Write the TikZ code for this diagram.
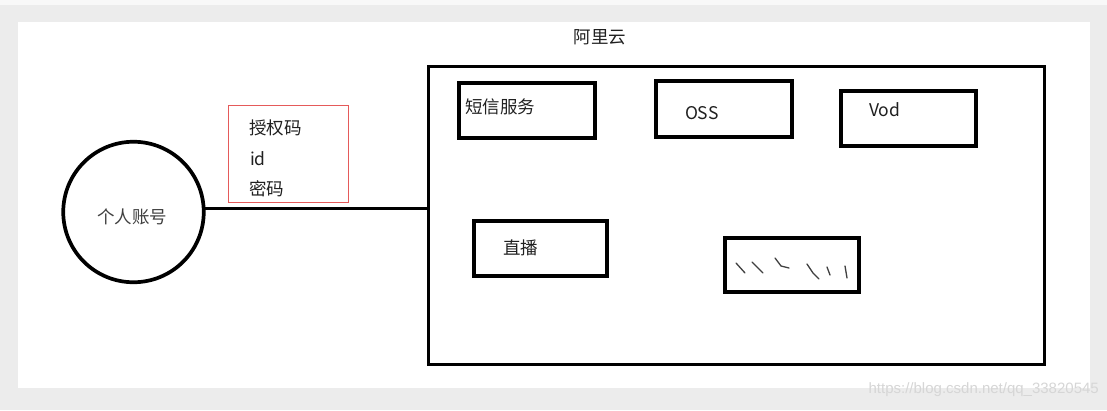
\documentclass[tikz,border=0pt]{standalone}
\usepackage{fontspec}
\newfontfamily\cjk{Noto Sans CJK SC}
\newfontfamily\wmfont{Liberation Sans}
\definecolor{bggrey}{HTML}{ECECEC}
\definecolor{topstrip}{HTML}{F8F8F8}
\definecolor{redline}{HTML}{E55A5A}
\definecolor{txt}{HTML}{202020}
\definecolor{wm}{HTML}{D6D6D6}
\tikzset{
  box/.style={draw=black, line width=3.3pt, rectangle, inner sep=0pt, outer sep=0pt},
  lbl/.style={inner sep=0pt, outer sep=0pt, text=txt, font=\cjk\fontsize{17.5}{20}\selectfont},
  squig/.style={draw=black!75, line width=1.3pt, line cap=round, line join=round},
}
\begin{document}
\begin{tikzpicture}[x=1pt, y=-1pt]
\useasboundingbox (0,0) rectangle (1107,410);
% background frame
\fill[bggrey] (0,0) rectangle (1107,410);
\fill[topstrip] (0,0) rectangle (1107,5);
\fill[white] (18,22) rectangle (1090,388);

% title
\node[lbl] (title) at (600,37) {阿里云};

% big cloud rectangle
\node[box, line width=3pt, minimum width=616pt, minimum height=298pt] (cloud) at (736.5,215.5) {};

% personal account circle
\node[draw=black, line width=3.7pt, circle, minimum size=140.5pt, inner sep=0pt, outer sep=0pt] (acct) at (133.5,212) {};
\node[lbl, text=black!75] (acctlbl) at (132,217) {个人账号};

% credentials box
\node[draw=redline, line width=1.5pt, rectangle, minimum width=120pt, minimum height=97pt, inner sep=0pt, outer sep=0pt] (cred) at (288.5,154) {};
\node[lbl, anchor=west] (c1) at (249,128) {授权码};
\node[lbl, anchor=west] (c2) at (250,159) {id};
\node[lbl, anchor=west] (c3) at (249,189) {密码};

% connector
\draw[line width=3pt] (acct.3) -- (acct.3 -| cloud.west);

% service boxes
\node[box, minimum width=136pt, minimum height=55pt] (sms) at (527,110.5) {};
\node[lbl, anchor=west] (smslbl) at (465,107) {短信服务};

\node[box, minimum width=136pt, minimum height=56pt] (oss) at (724,109) {};
\node[lbl, anchor=west] (osslbl) at (685,113) {OSS};

\node[box, minimum width=135pt, minimum height=55pt] (vod) at (908.5,118.5) {};
\node[lbl, anchor=west] (vodlbl) at (869,110) {Vod};

\node[box, minimum width=133pt, minimum height=55pt] (live) at (540.5,248.5) {};
\node[lbl, anchor=west] (livelbl) at (503,248) {直播};

\node[box, minimum width=134pt, minimum height=54pt] (misc) at (792,265) {};
% scribbles
\draw[squig] (736,263) -- (745,273);
\draw[squig] (752,262) -- (763,273);
\draw[squig] (775,258) -- (781,266) -- (789,268);
\draw[squig] (807,264) -- (813,273) -- (819,279);
\draw[squig] (827,267) -- (830,275);
\draw[squig] (845,266) -- (847,278);

% watermark
\node[inner sep=0pt, anchor=east, text=wm, font=\wmfont\fontsize{15}{17}\selectfont] (wmark) at (1099,390) {https://blog.csdn.net/qq\_33820545};
\end{tikzpicture}
\end{document}
